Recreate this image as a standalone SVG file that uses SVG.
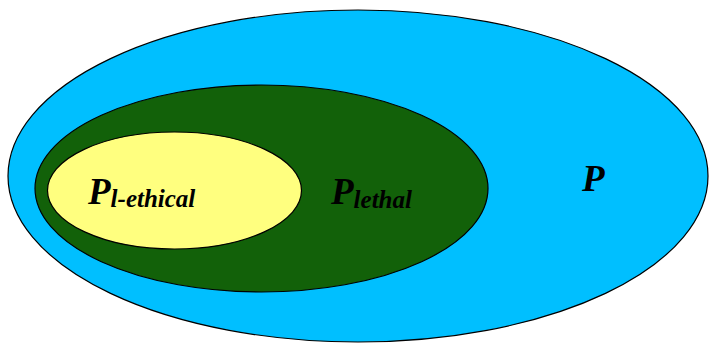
<svg xmlns="http://www.w3.org/2000/svg" width="710" height="345" viewBox="0 0 710 345">
  <style>
    .set { stroke: #000; stroke-width: 1.2; }
    .lbl { font-family: "Liberation Serif", "Times New Roman", serif; font-weight: bold; font-style: italic; fill: #000; }
    .main { font-size: 37px; }
    .sub { font-size: 25px; }
  </style>
  <rect width="710" height="345" fill="#fff"/>
  <g id="set-p">
    <ellipse class="set" cx="358" cy="176" rx="350" ry="166" fill="#00bfff"/>
    <text class="lbl main" x="582" y="191">P</text>
  </g>
  <g id="set-lethal">
    <ellipse class="set" cx="261.5" cy="188.5" rx="226.5" ry="103.5" fill="#126109"/>
    <text class="lbl" x="331" y="203.5"><tspan class="main">P</tspan><tspan class="sub" dy="4">lethal</tspan></text>
  </g>
  <g id="set-l-ethical">
    <ellipse class="set" cx="174.5" cy="190.5" rx="127" ry="58.5" fill="#ffff7f"/>
    <text class="lbl" x="88" y="204"><tspan class="main">P</tspan><tspan class="sub" dy="2.5">l-ethical</tspan></text>
  </g>
  <g id="connectors"/>
</svg>
